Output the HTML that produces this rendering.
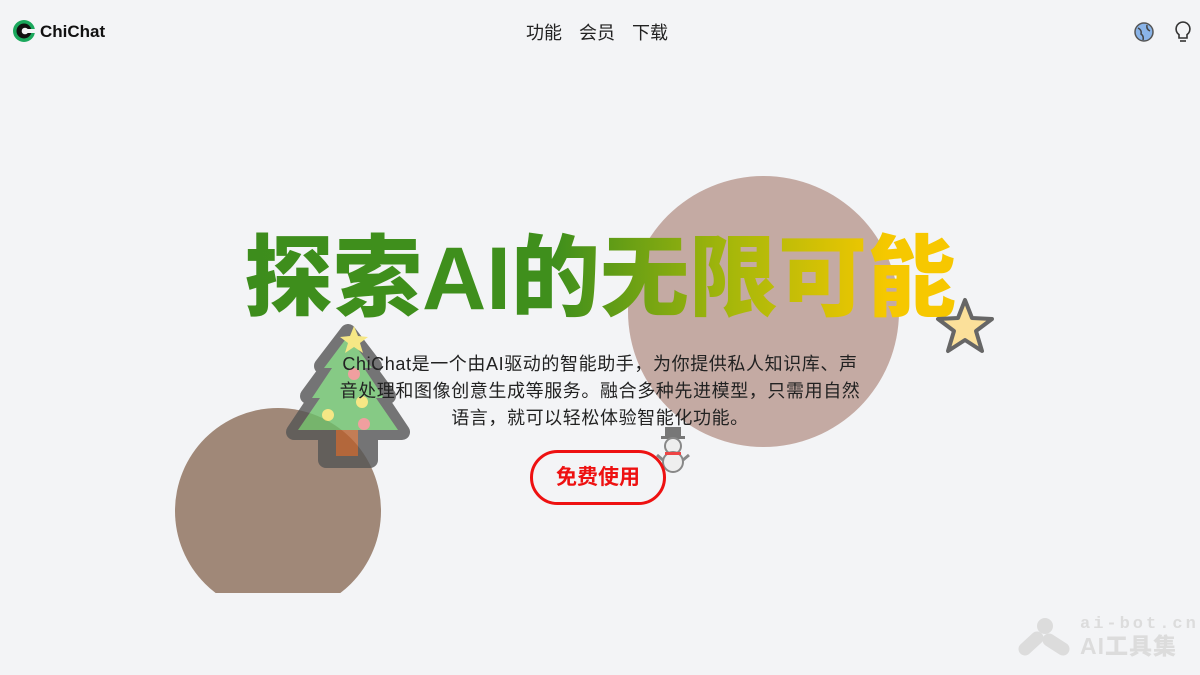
<!DOCTYPE html>
<html><head><meta charset="utf-8"><style>
*{margin:0;padding:0;box-sizing:border-box}
body{width:1200px;height:675px;overflow:hidden;background:#f3f4f6;font-family:"Liberation Sans","Noto Sans CJK SC",sans-serif;position:relative}
.abs{position:absolute}
</style></head><body>
<div class="abs" style="left:0;top:0;width:1200px;height:593px;overflow:hidden">
 <div class="abs" style="left:175px;top:408px;width:206px;height:206px;border-radius:50%;background:#a08878"></div>
</div>
<div class="abs" style="left:628px;top:176px;width:271px;height:271px;border-radius:50%;background:#c4aaa3"></div>

<div class="abs" style="left:12px;top:19px;display:flex;align-items:center;gap:4px">
 <svg width="24" height="24" viewBox="0 0 24 24"><circle cx="12" cy="12" r="11" fill="#1aa85c"/><circle cx="12" cy="12" r="7.5" fill="#111"/><circle cx="13" cy="12" r="3.3" fill="#f3f4f6"/><rect x="14" y="10" width="10" height="4" fill="#f3f4f6"/></svg>
 <span style="font-weight:bold;font-size:17px;color:#111;margin-top:2px">ChiChat</span>
</div>
<div class="abs" style="left:526px;top:19px;font-size:18px;color:#222;display:flex;gap:17px">
 <span>功能</span>
 <span>会员</span>
 <span>下载</span>
</div>
<svg class="abs" style="left:1133px;top:21px" width="22" height="22" viewBox="0 0 22 22"><circle cx="11" cy="11" r="9" fill="#8ab4e8" stroke="#555" stroke-width="1.5"/><path d="M5 7 Q9 9 8 13 Q11 15 10 19" stroke="#444" fill="none" stroke-width="1.5"/><path d="M14 4 Q13 8 17 10" stroke="#444" fill="none" stroke-width="1.5"/></svg>
<svg class="abs" style="left:1172px;top:20px" width="22" height="24" viewBox="0 0 22 24"><path d="M11 2a7 7 0 0 0-4 12.7V18h8v-3.3A7 7 0 0 0 11 2z" fill="none" stroke="#333" stroke-width="1.6"/><line x1="8" y1="21" x2="14" y2="21" stroke="#333" stroke-width="1.6"/></svg>

<div class="abs" style="left:150px;top:218px;width:900px;text-align:center;font-size:89px;font-weight:900;line-height:120px;letter-spacing:0px;background:linear-gradient(90deg,#3b8b1d 0%,#3f8f1c 22%,#3f8f1c 45%,#a8b80a 65%,#f6c800 82%,#f9c600 100%);-webkit-background-clip:text;background-clip:text;color:transparent">探索AI的无限可能</div>

<svg class="abs" style="left:284px;top:320px;opacity:0.8" width="128" height="150" viewBox="0 0 128 150">
 <path d="M64 12 L90 46 L82 46 L104 76 L94 76 L118 112 L86 112 L86 140 L42 140 L42 112 L10 112 L34 76 L24 76 L46 46 L38 46 Z" fill="#555" stroke="#555" stroke-width="16" stroke-linejoin="round"/>
 <path d="M64 16 L88 48 L80 48 L100 78 L92 78 L114 110 L14 110 L36 78 L28 78 L48 48 L40 48 Z" fill="#6cc06a"/>
 <rect x="52" y="110" width="22" height="26" fill="#b8602d"/>
 <polygon points="70,6 74,16 84,17 76,23 79,33 70,27 61,33 64,23 56,17 66,16" fill="#f7e46a"/>
 <circle cx="70" cy="54" r="6" fill="#f08a8a"/><circle cx="78" cy="82" r="6" fill="#f7e46a"/><circle cx="44" cy="95" r="6" fill="#f7e46a"/><circle cx="80" cy="104" r="6" fill="#f08a8a"/>
</svg>

<div class="abs" style="left:334px;top:351px;width:532px;text-align:center;font-size:18px;line-height:27px;color:#222;letter-spacing:0.6px">ChiChat是一个由AI驱动的智能助手，为你提供私人知识库、声音处理和图像创意生成等服务。融合多种先进模型，只需用自然语言，就可以轻松体验智能化功能。</div>

<svg class="abs" style="left:934px;top:296px" width="62" height="62" viewBox="0 0 62 62"><polygon points="31,4 38,22 58,23 42,35 48,55 31,44 14,55 20,35 4,23 24,22" fill="#fbe09a" stroke="#666" stroke-width="4" stroke-linejoin="round"/></svg>
<svg class="abs" style="left:653px;top:425px" width="40" height="48" viewBox="0 0 40 48"><rect x="12" y="2" width="16" height="10" fill="#777"/><rect x="8" y="11" width="24" height="3" fill="#777"/><circle cx="20" cy="21" r="8" fill="#eee" stroke="#888" stroke-width="2"/><circle cx="20" cy="37" r="10" fill="#eee" stroke="#888" stroke-width="2"/><rect x="12" y="27" width="16" height="3" fill="#e44"/><line x1="4" y1="30" x2="10" y2="35" stroke="#888" stroke-width="3"/><line x1="36" y1="30" x2="30" y2="35" stroke="#888" stroke-width="3"/></svg>

<div class="abs" style="left:530px;top:450px;width:136px;height:55px;border:3px solid #ee1111;border-radius:28px;text-align:center;line-height:49px;font-size:21px;font-weight:bold;color:#ee1111;background:#f3f4f6">免费使用</div>

<div class="abs" style="left:1018px;top:616px;display:flex;align-items:center;gap:8px;color:#dcdcdc">
 <svg width="54" height="40" viewBox="0 0 54 40"><circle cx="27" cy="9" r="8" fill="#dcdcdc"/><path d="M7 32 L19 21" stroke="#dcdcdc" stroke-width="13" stroke-linecap="round"/><path d="M31 23 L45 32" stroke="#dcdcdc" stroke-width="13" stroke-linecap="round"/></svg>
 <div><div style="font-family:'Liberation Mono',monospace;font-weight:bold;font-size:17px;letter-spacing:3px;line-height:18px">ai-bot.cn</div><div style="font-weight:900;font-size:23px;line-height:24px;letter-spacing:1px">AI工具集</div></div>
</div>
</body></html>
